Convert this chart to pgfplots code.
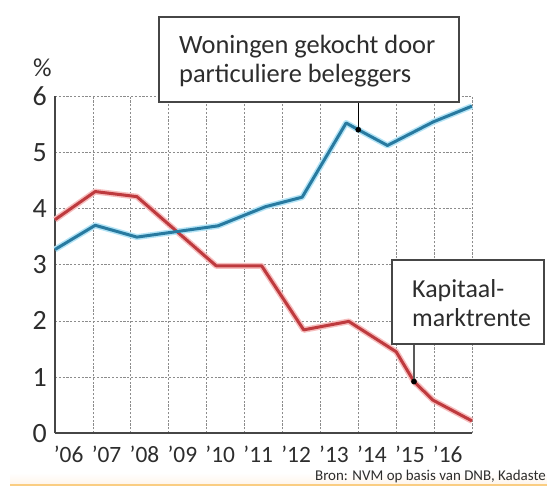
\documentclass[border=0pt]{standalone}
\usepackage{pgfplots}
\pgfplotsset{compat=1.18}
\usepackage{fontspec}
\setmainfont{Carlito}
\definecolor{blueline}{RGB}{40,122,160}
\definecolor{bluehalo}{RGB}{180,228,246}
\definecolor{redline}{RGB}{190,58,62}
\definecolor{redhalo}{RGB}{246,190,190}
\definecolor{txt}{RGB}{45,45,45}
\definecolor{gridc}{RGB}{140,140,140}
\definecolor{axc}{RGB}{70,70,70}
\definecolor{orangeline}{RGB}{250,205,130}
\begin{document}
\begin{tikzpicture}
\useasboundingbox (0,0) rectangle (547bp,497bp);
% bottom band
\shade[top color=white, bottom color=orange!8] (10bp,12.5bp) rectangle (547bp,24bp);
\draw[orangeline, line width=2bp] (10bp,12bp) -- (547bp,12bp);
\begin{axis}[
  at={(55bp,63.7bp)}, anchor=south west,
  scale only axis, width=417bp, height=337.3bp,
  xmin=0, xmax=11, ymin=0, ymax=6,
  axis x line*=bottom, axis y line*=left,
  axis line style={-, draw=axc, line width=1.6bp},
  xtick={0.36,1.36,2.36,3.36,4.36,5.36,6.36,7.36,8.36,9.36,10.36},
  xticklabels={'06,'07,'08,'09,'10,'11,'12,'13,'14,'15,'16},
  minor xtick={0,1,2,3,4,5,6,7,8,9,10,11},
  ytick={0,1,2,3,4,5,6}, yticklabels={0,1,2,3,4,5,6},
  xminorgrids=true, xmajorgrids=false, ymajorgrids=true,
  grid style={draw=gridc, line width=0.7bp, dash pattern=on 2.2bp off 1.6bp},
  minor grid style={draw=gridc, line width=0.7bp, dash pattern=on 2.2bp off 1.6bp},
  major tick length=0pt, minor tick length=0pt,
  tick style={draw=none},
  /pgf/number format/assume math mode=true,
  xticklabel style={font=\fontsize{23.5}{23.5}\selectfont, text=txt, anchor=north, inner sep=0pt, yshift=-12bp},
  yticklabel style={font=\fontsize{28}{28}\selectfont, text=txt, anchor=east, inner sep=0pt, xshift=-8bp},
  clip=false,
]
% halos
\addplot[redhalo, line width=6bp, line join=round] coordinates {
(0,3.80) (1.06,4.30) (2.16,4.21) (4.25,2.98) (5.45,2.98) (6.56,1.84) (7.75,1.99) (9.0,1.45) (9.47,0.92) (9.97,0.59) (11,0.22)};
\addplot[bluehalo, line width=6bp, line join=round] coordinates {
(0,3.27) (1.06,3.70) (2.16,3.49) (4.3,3.69) (5.55,4.03) (6.52,4.20) (7.68,5.52) (8.0,5.40) (8.77,5.12) (9.98,5.54) (11,5.82)};
% main lines
\addplot[redline, line width=3bp, line join=round] coordinates {
(0,3.80) (1.06,4.30) (2.16,4.21) (4.25,2.98) (5.45,2.98) (6.56,1.84) (7.75,1.99) (9.0,1.45) (9.47,0.92) (9.97,0.59) (11,0.22)};
\addplot[blueline, line width=3bp, line join=round] coordinates {
(0,3.27) (1.06,3.70) (2.16,3.49) (4.3,3.69) (5.55,4.03) (6.52,4.20) (7.68,5.52) (8.0,5.40) (8.77,5.12) (9.98,5.54) (11,5.82)};
% leader lines
\draw[black, line width=1.3bp] (axis cs:8,5.40) -- (axis cs:8,5.95);
\draw[black!65, line width=1.3bp] (axis cs:9.47,0.92) -- (axis cs:9.47,1.62);
% dots
\addplot[only marks, mark=*, mark size=2.6bp, black] coordinates {(8,5.40) (9.47,0.92)};
\end{axis}
% percent label
\node[font=\fontsize{26}{26}\selectfont, text=txt] at (42.5bp,429bp) {\%};
% annotation boxes
\draw[draw=axc, line width=1.2bp, fill=white] (159bp,395bp) rectangle (459bp,480bp);
\node[anchor=base west, inner sep=0pt, font=\fontsize{26.5}{26.5}\selectfont, text=txt] at (179bp,443bp) {Woningen gekocht door};
\node[anchor=base west, inner sep=0pt, font=\fontsize{26.5}{26.5}\selectfont, text=txt] at (179bp,414.3bp) {particuliere beleggers};
\draw[draw=axc, line width=1.2bp, fill=white] (392bp,153bp) rectangle (544bp,237bp);
\node[anchor=base west, inner sep=0pt, font=\fontsize{26}{26}\selectfont, text=txt] at (412bp,199bp) {Kapitaal-};
\node[anchor=base west, inner sep=0pt, font=\fontsize{26}{26}\selectfont, text=txt] at (412bp,170bp) {marktrente};
% source
\node[anchor=base east, inner sep=0pt, font=\fontsize{15}{15}\selectfont, text=txt] at (546bp,16.5bp) {Bron: NVM op basis van DNB, Kadaste};
\end{tikzpicture}
\end{document}
